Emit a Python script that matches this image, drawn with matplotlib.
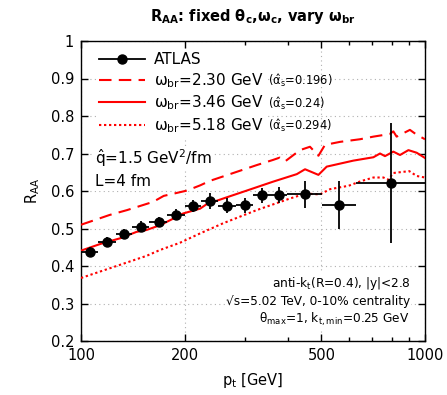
import numpy as np
import matplotlib.pyplot as plt
from matplotlib.lines import Line2D
from matplotlib.ticker import FixedLocator, NullFormatter, NullLocator

plt.rcParams['font.family'] = ['DejaVu Sans']
plt.rcParams['mathtext.fontset'] = 'dejavusans'
plt.rcParams['mathtext.default'] = 'regular'

# ATLAS jet R_AA, 0-10%
pt_atlas = [106, 119, 133, 149, 168, 189, 212, 237, 266, 299, 335, 376, 447, 562, 794]
pt_lo = [100, 112, 126, 141, 158, 178, 200, 224, 251, 282, 316, 355, 398, 501, 631]
pt_hi = [112, 126, 141, 158, 178, 200, 224, 251, 282, 316, 355, 398, 501, 631, 1000]
raa_atlas = [0.438, 0.465, 0.485, 0.505, 0.518, 0.537, 0.560, 0.574, 0.561, 0.562,
             0.589, 0.589, 0.592, 0.562, 0.621]
raa_err = [0.012, 0.013, 0.013, 0.014, 0.014, 0.015, 0.017, 0.022, 0.020, 0.020,
           0.020, 0.022, 0.036, 0.064, 0.160]

# omega_br = 2.30 GeV
pt_w230 = [100, 121, 136, 162, 174, 186, 203, 222, 237, 271, 324, 362, 378, 392, 433,
           463, 490, 512, 566, 647, 708, 790, 809, 827, 904, 946, 1000]
raa_w230 = [0.510, 0.536, 0.549, 0.571, 0.587, 0.593, 0.601, 0.615, 0.627, 0.645, 0.669,
            0.683, 0.689, 0.679, 0.709, 0.718, 0.694, 0.723, 0.731, 0.738, 0.745, 0.752,
            0.759, 0.745, 0.763, 0.750, 0.738]

# omega_br = 3.46 GeV
pt_w346 = [100, 114, 130, 145, 155, 170, 186, 198, 222, 232, 265, 303, 362, 424, 448,
           470, 490, 518, 619, 708, 740, 765, 809, 846, 895, 946, 1000]
raa_w346 = [0.441, 0.459, 0.474, 0.491, 0.496, 0.509, 0.527, 0.540, 0.553, 0.565, 0.583,
            0.601, 0.625, 0.645, 0.658, 0.650, 0.643, 0.665, 0.681, 0.690, 0.700, 0.693,
            0.705, 0.696, 0.709, 0.702, 0.688]

# omega_br = 5.18 GeV
pt_w518 = [100, 125, 155, 170, 194, 222, 259, 324, 405, 453, 470, 495, 530, 600, 650,
           708, 757, 782, 809, 900, 946, 1000]
raa_w518 = [0.368, 0.398, 0.427, 0.443, 0.462, 0.487, 0.514, 0.549, 0.580, 0.594, 0.592,
            0.591, 0.605, 0.614, 0.626, 0.636, 0.636, 0.630, 0.648, 0.653, 0.640, 0.636]

alpha_labels = ['(α̂$_s$=0.196)', '(α̂$_s$=0.24)', '(α̂$_s$=0.294)']

fig = plt.figure(figsize=(4.47, 3.95), dpi=100)
ax = fig.add_axes([81 / 447, 1 - 341 / 395, 344 / 447, 300 / 395])

red = '#ff0000'
l1, = ax.plot(pt_w230, raa_w230, color=red, lw=1.5, dashes=(6, 3.5), zorder=3)
l2, = ax.plot(pt_w346, raa_w346, color=red, lw=1.5, zorder=3)
l3, = ax.plot(pt_w518, raa_w518, color=red, lw=1.5, dashes=(1.1, 1.3), zorder=3)

xerr = [np.array(pt_atlas) - np.array(pt_lo), np.array(pt_hi) - np.array(pt_atlas)]
ax.errorbar(pt_atlas, raa_atlas, xerr=xerr, yerr=raa_err, fmt='o', color='black',
            ms=6.5, lw=1.3, capsize=0, zorder=4)

ax.set_xscale('log')
ax.set_xlim(100, 1000)
ax.set_ylim(0.2, 1.0)
ax.xaxis.set_major_locator(FixedLocator([100, 200, 500, 1000]))
ax.xaxis.set_major_formatter(plt.FixedFormatter(['100', '200', '500', '1000']))
ax.xaxis.set_minor_locator(FixedLocator([300, 400, 600, 700, 800, 900]))
ax.xaxis.set_minor_formatter(NullFormatter())
ax.set_yticks([0.2, 0.3, 0.4, 0.5, 0.6, 0.7, 0.8, 0.9, 1.0])
ax.set_yticklabels(['0.2', '0.3', '0.4', '0.5', '0.6', '0.7', '0.8', '0.9', '1'])
ax.yaxis.set_minor_locator(NullLocator())
ax.tick_params(which='both', direction='in', top=True, right=True, labelsize=10.5,
               width=1.0, pad=5)
ax.tick_params(which='major', length=5)
ax.tick_params(which='minor', length=3)
for s in ax.spines.values():
    s.set_linewidth(1.0)

ax.grid(True, which='major', color='#b0b0b0', lw=0.8, linestyle=(0, (1, 3)))
ax.set_axisbelow(True)

ax.set_xlabel(r'p$_t$ [GeV]', fontsize=10.5, labelpad=6)
ax.set_ylabel(r'R$_{AA}$', fontsize=10.5, labelpad=6)
fig.text(253 / 447, 1 - 17 / 395,
         r'$\mathbf{R_{AA}}$: fixed $\mathbf{\theta_c}$,$\mathbf{\omega_c}$, vary $\mathbf{\omega_{br}}$',
         ha='center', va='center', fontsize=10.5, fontweight='bold')

atlas_handle = Line2D([], [], color='black', lw=1.3, marker='o', ms=6.5)
leg = ax.legend([atlas_handle, l1, l2, l3],
                ['ATLAS', r'$\omega_{br}$=2.30 GeV', r'$\omega_{br}$=3.46 GeV',
                 r'$\omega_{br}$=5.18 GeV'],
                loc='upper left', bbox_to_anchor=(0.02, 1.0), fontsize=11,
                handlelength=3.0, handletextpad=0.55, labelspacing=0.25,
                borderpad=0.25, frameon=True, fancybox=False, framealpha=1,
                facecolor='white', edgecolor='none')
leg.set_zorder(5)

bb = dict(facecolor='white', edgecolor='none', pad=1)
ax.text(95 / 447, 1 - 158 / 395, r'$\hat{q}$=1.5 GeV$^2$/fm', transform=fig.transFigure,
        ha='left', va='center', fontsize=11, bbox=bb, zorder=5)
ax.text(95 / 447, 1 - 182 / 395, 'L=4 fm', transform=fig.transFigure,
        ha='left', va='center', fontsize=11, bbox=bb, zorder=5)

notes = [r'anti-k$_t$(R=0.4), |y|<2.8', '√s=5.02 TeV, 0-10% centrality',
         r'$\theta_{max}$=1, k$_{t,min}$=0.25 GeV']
for txt, yp in zip(notes, [283, 301.5, 319]):
    ax.text(410 / 447, 1 - yp / 395, txt, transform=fig.transFigure, ha='right',
            va='center', fontsize=8.7, bbox=bb, zorder=5)

# small alpha_s labels after legend entries
fig.canvas.draw()
r = fig.canvas.get_renderer()
W, H = fig.bbox.width, fig.bbox.height
for t, lab in zip(leg.get_texts()[1:], alpha_labels):
    e = t.get_window_extent(r)
    fig.text((e.x1 + 5) / W, (e.y0 + e.y1) / 2 / H, lab, ha='left', va='center',
             fontsize=8.3, zorder=6)

fig.savefig('out.png', dpi=100)
